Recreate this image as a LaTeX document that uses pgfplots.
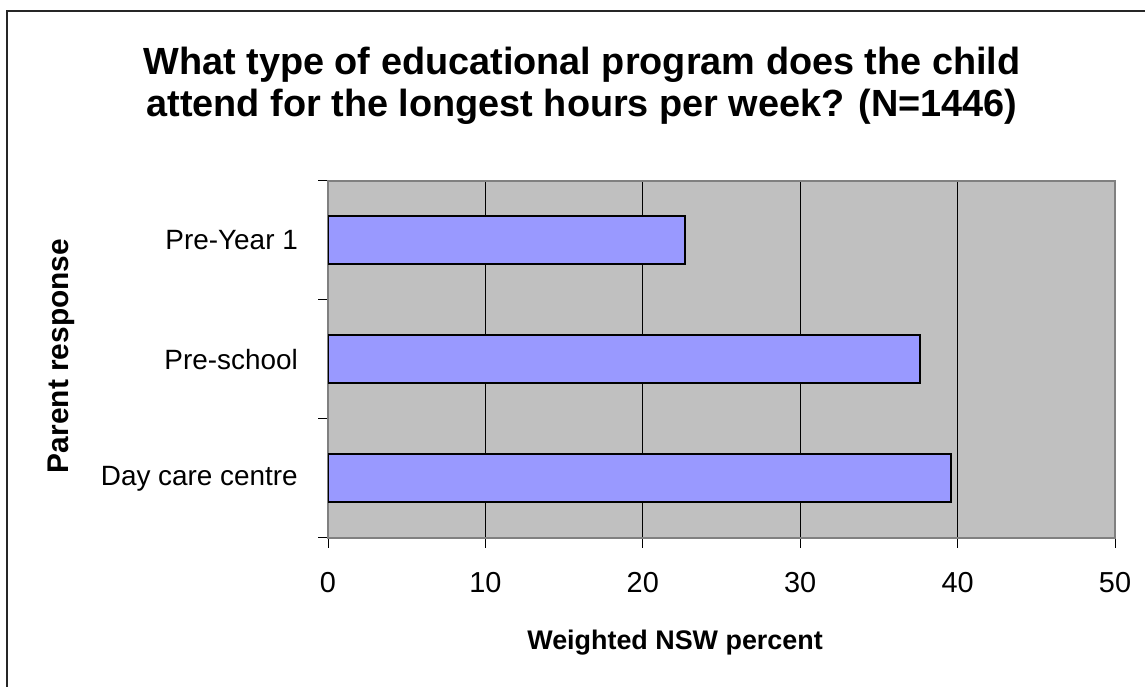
\documentclass[border=0pt]{standalone}
\usepackage{fontspec}
\setmainfont{Liberation Sans}
\usepackage{pgfplots}
\pgfplotsset{compat=1.18}
\definecolor{barblue}{HTML}{9999FF}
\definecolor{plotbg}{HTML}{C0C0C0}
\definecolor{framegray}{HTML}{808080}

\begin{document}
\begin{tikzpicture}[x=1bp,y=1bp]
\useasboundingbox (0,0) rectangle (1145,687);
% outer chart border (only top and left edges are in view)
\draw[line width=1.5bp, black!85] (7,-5) -- (7,676) -- (1150,676);
% title, two lines
\node[font=\bfseries\fontsize{38}{45}\selectfont, anchor=base] at (582,612)
  {What type of educational program does the child};
\node[font=\bfseries\fontsize{38}{45}\selectfont, anchor=base] at (582,570)
  {attend for the longest hours per week? (N=1446)};

\begin{axis}[
  at={(328bp,149bp)}, anchor=south west,
  scale only axis, width=787bp, height=357bp,
  xbar, bar width=48bp,
  xmin=0, xmax=50, ymin=-0.5, ymax=2.5,
  xtick={0,10,...,50},
  xmajorgrids,
  major grid style={black, line width=0.8bp},
  axis background/.style={fill=plotbg},
  axis line style={framegray, line width=1.5bp},
  tick align=outside, tick pos=left,
  major tick length=10bp,
  tick style={black, line width=1bp},
  ytick={-0.5,0.5,1.5,2.5}, yticklabels={},
  extra y ticks={0,1,2},
  extra y tick labels={Day care centre,Pre-school,Pre-Year 1},
  extra y tick style={major tick length=0pt, grid=none,
    yticklabel style={font=\fontsize{28}{28}\selectfont, anchor=east, inner sep=0pt, xshift=-30bp}},
  /pgf/number format/assume math mode=true,
  xticklabel style={font=\fontsize{29}{29}\selectfont, anchor=base, yshift=-45bp},
  xlabel={Weighted NSW percent},
  xlabel style={font=\bfseries\fontsize{27}{27}\selectfont, at={(axis description cs:0.441,-0.311)}, anchor=base},
  ylabel={Parent response},
  ylabel style={font=\bfseries\fontsize{30}{30}\selectfont, at={(axis description cs:-0.339,0.51)}, anchor=center, rotate=0},
]
\addplot[fill=barblue, draw=black, line width=2bp] coordinates {(39.6,0) (37.6,1) (22.7,2)};
\end{axis}
\end{tikzpicture}
\end{document}
